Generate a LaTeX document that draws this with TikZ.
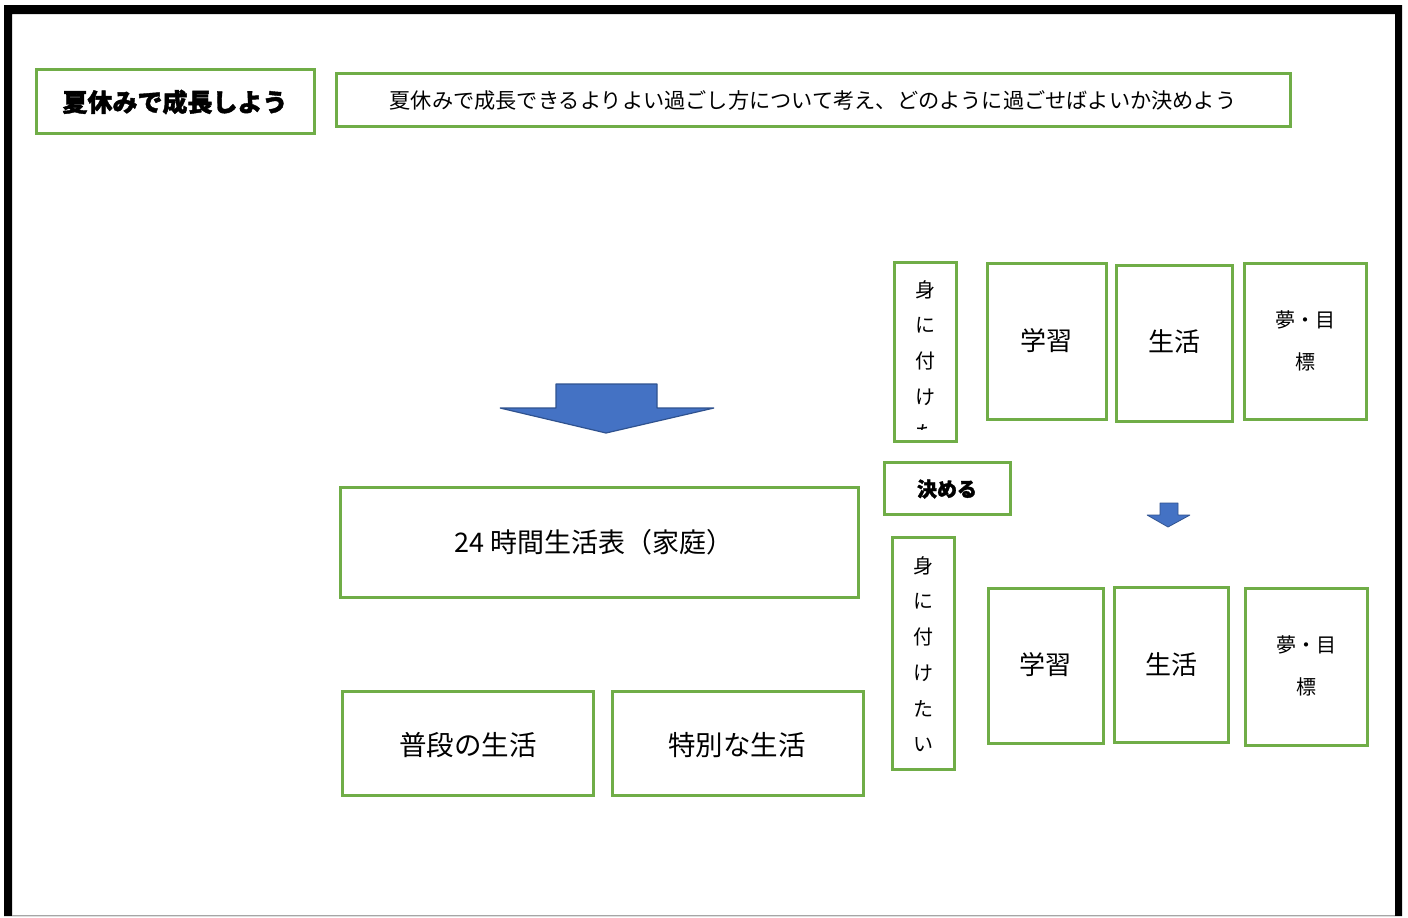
\documentclass[tikz,border=0pt]{standalone}
\usepackage{fontspec}
\newfontfamily\jp{Noto Sans CJK JP}
\newfontfamily\jpheavy{Noto Sans CJK JP}[FakeBold=1.6]
\definecolor{gfr}{HTML}{70AD47}
\definecolor{afill}{HTML}{4472C4}
\definecolor{aline}{HTML}{2F528F}
\tikzset{
  gbox/.style={draw=gfr, line width=3pt, fill=white, inner sep=0pt, minimum width=#1},
  tx/.style={inner sep=0pt, font=\jp\fontsize{#1}{#1}\selectfont},
  bluearrow/.style={fill=afill, draw=aline, line width=1.2pt, line join=bevel}
}
\begin{document}
\begin{tikzpicture}[x=1pt,y=-1pt]
\useasboundingbox (0,0) rectangle (1408,918);
\fill[white] (0,0) rectangle (1408,918);
% frame
\fill[black, even odd rule] (4,5) rectangle (1402,916) (12,14) rectangle (1395,915);
\draw[gray!70, line width=1pt] (12,915.5) -- (1395,915.5);

% title boxes
\node[gbox=278pt, minimum height=64pt] (title) at (175,101) {};
\node[inner sep=0pt, font=\jpheavy\bfseries\fontsize{25}{25}\selectfont] (titletx) at (175,102) {夏休みで成長しよう};
\node[gbox=954pt, minimum height=53pt] (sub) at (813,99.5) {};
\node[tx=21.2] (subtx) at (813,100) {夏休みで成長できるよりよい過ごし方について考え、どのように過ごせばよいか決めよう};

% big arrow
\draw[bluearrow] (556,384) -- (657,384) -- (657,408) -- (714,408) -- (606,433) -- (500,408) -- (556,408) -- cycle;

% left boxes
\node[gbox=518pt, minimum height=110pt] (table) at (599,542) {};
\node[tx=27] (tabletx) at (594,542) {24 時間生活表（家庭）};
\node[gbox=251pt, minimum height=104pt] (futsu) at (467.5,743) {};
\node[tx=27.5] (futsutx) at (468,745) {普段の生活};
\node[gbox=251pt, minimum height=104pt] (toku) at (737.5,743) {};
\node[tx=27.5] (tokutx) at (737,745) {特別な生活};

% vertical box top
\node[gbox=62pt, minimum height=179pt] (vert1) at (925,351.5) {};
\begin{scope}
\clip (896,264) rectangle (954,429);
\foreach \c/\y [count=\i] in {身/290,に/325,付/361,け/397,た/433}
  \node[tx=20] (va\i) at (925,\y) {\c};
\end{scope}

% kimeru
\node[gbox=126pt, minimum height=52pt] (kimeru) at (947,488) {};
\node[inner sep=0pt, font=\jpheavy\bfseries\fontsize{20}{20}\selectfont] (kimerutx) at (947,489) {決める};

% vertical box bottom
\node[gbox=62pt, minimum height=232pt] (vert2) at (923,653) {};
\foreach \c/\y [count=\i] in {身/566,に/601,付/637,け/673,た/709,い/745}
  \node[tx=20] (vb\i) at (923,\y) {\c};

% top row
\node[gbox=119pt, minimum height=156pt] (gaku1) at (1046.5,341) {};
\node[tx=26] (gaku1tx) at (1046,341) {学習};
\node[gbox=116pt, minimum height=156pt] (sei1) at (1174,343) {};
\node[tx=26] (sei1tx) at (1174,342) {生活};
\node[gbox=122pt, minimum height=156pt] (yume1) at (1305,341) {};
\node[tx=20] (yume1a) at (1305,320) {夢・目};
\node[tx=20] (yume1b) at (1305,362) {標};

% small arrow
\draw[bluearrow, line width=0.8pt] (1160,503) -- (1178,503) -- (1178,515) -- (1190,515) -- (1168,527) -- (1147,515) -- (1160,515) -- cycle;

% bottom row
\node[gbox=115pt, minimum height=155pt] (gaku2) at (1045.5,665.5) {};
\node[tx=26] (gaku2tx) at (1045,665) {学習};
\node[gbox=114pt, minimum height=155pt] (sei2) at (1171,664.5) {};
\node[tx=26] (sei2tx) at (1171,665) {生活};
\node[gbox=122pt, minimum height=157pt] (yume2) at (1306,666.5) {};
\node[tx=20] (yume2a) at (1306,645) {夢・目};
\node[tx=20] (yume2b) at (1306,687) {標};
\end{tikzpicture}
\end{document}
